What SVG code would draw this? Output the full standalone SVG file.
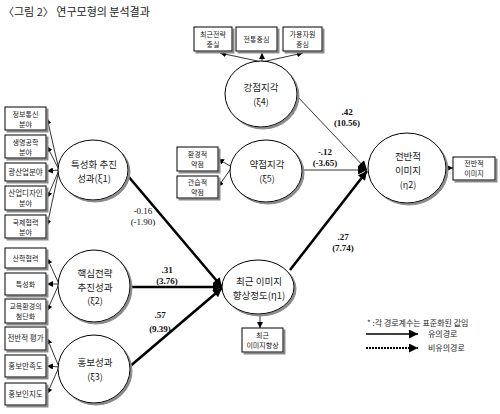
<svg xmlns="http://www.w3.org/2000/svg" width="500" height="414" viewBox="0 0 500 414">
<style>
.t{font-family:"Noto Sans CJK KR","Noto Sans",sans-serif;fill:#222;}
.n{font-family:"Liberation Serif",serif;fill:#111;font-size:9px;}
.b{font-weight:bold;}
.box{fill:#fff;stroke:#000;stroke-width:1;}
.el{fill:#fff;stroke:#000;stroke-width:1;}
.thin{stroke:#000;stroke-width:0.8;fill:none;}
.thick{stroke:#000;stroke-width:2.6;fill:none;}
</style>
<defs>
<filter id="sh" x="-20%" y="-20%" width="150%" height="150%">
<feOffset in="SourceAlpha" dx="2" dy="2" result="o"/>
<feFlood flood-color="#8a8a8a"/>
<feComposite in2="o" operator="in" result="s"/>
<feMerge><feMergeNode in="s"/><feMergeNode in="SourceGraphic"/></feMerge>
</filter>
<marker id="a" viewBox="0 0 10 10" refX="10" refY="5" markerWidth="6" markerHeight="6" markerUnits="userSpaceOnUse" orient="auto"><path d="M0,0L10,5L0,10z" fill="#000"/></marker>
<marker id="A" viewBox="0 0 10 10" refX="10" refY="5" markerWidth="10" markerHeight="9" markerUnits="userSpaceOnUse" orient="auto"><path d="M0,0L10,5L0,10z" fill="#000"/></marker>
</defs>
<rect width="500" height="414" fill="#fff"/>
<text class="t" x="3" y="16" font-size="11">〈그림 2〉 연구모형의 분석결과</text>

<g id="connectors">
<path class="thin" d="M262,62L220,53" marker-end="url(#a)"/>
<path class="thin" d="M262,62L262,53" marker-end="url(#a)"/>
<path class="thin" d="M262,62L303,53" marker-end="url(#a)"/>
<path class="thin" d="M59,170L47,118" marker-end="url(#a)"/>
<path class="thin" d="M59,170L47,146" marker-end="url(#a)"/>
<path class="thin" d="M59,170L47,171" marker-end="url(#a)"/>
<path class="thin" d="M59,170L47,198" marker-end="url(#a)"/>
<path class="thin" d="M59,170L47,226" marker-end="url(#a)"/>
<path class="thin" d="M59,284L47,258" marker-end="url(#a)"/>
<path class="thin" d="M59,284L47,284" marker-end="url(#a)"/>
<path class="thin" d="M59,284L47,311" marker-end="url(#a)"/>
<path class="thin" d="M59,367L47,338" marker-end="url(#a)"/>
<path class="thin" d="M59,367L47,366" marker-end="url(#a)"/>
<path class="thin" d="M59,367L47,394" marker-end="url(#a)"/>
<path class="thin" d="M232,167L218,159" marker-end="url(#a)"/>
<path class="thin" d="M232,167L218,187" marker-end="url(#a)"/>
<path class="thin" d="M445,168L453,168" marker-end="url(#a)"/>
<path class="thin" d="M260,313L260,328" marker-end="url(#a)"/>
<path class="thick" d="M128,176L222,287" marker-end="url(#A)"/>
<path class="thick" d="M130,287L222,287" marker-end="url(#A)"/>
<path class="thick" d="M128,368L222,288" marker-end="url(#A)"/>
<path class="thick" d="M290,270L367,171" marker-end="url(#A)"/>
<path class="thin" d="M296,95L367,170" marker-end="url(#A)"/>
<path class="thin" d="M302,170L367,170" marker-end="url(#A)"/>
</g>

<g id="labels">
<text class="n" x="143" y="214" text-anchor="middle">-0.16</text>
<text class="n" x="143" y="225" text-anchor="middle">(-1.90)</text>
<text class="n b" x="167" y="273" text-anchor="middle">.31</text>
<text class="n b" x="167" y="284" text-anchor="middle">(3.76)</text>
<text class="n b" x="160" y="318" text-anchor="middle">.57</text>
<text class="n b" x="160" y="332" text-anchor="middle">(9.39)</text>
<text class="n b" x="343" y="240" text-anchor="middle">.27</text>
<text class="n b" x="343" y="251" text-anchor="middle">(7.74)</text>
<text class="n b" x="347" y="115" text-anchor="middle">.42</text>
<text class="n b" x="347" y="126" text-anchor="middle">(10.56)</text>
<text class="n b" x="325" y="155" text-anchor="middle">-.12</text>
<text class="n b" x="325" y="166" text-anchor="middle">(-3.65)</text>
</g>

<g id="xi4">
<ellipse class="el" filter="url(#sh)" cx="261" cy="94" rx="36" ry="33"/>
<text class="t" x="261" y="91" font-size="9.5" text-anchor="middle">강점지각</text>
<text class="t" x="261" y="105" font-size="9" text-anchor="middle">(ξ4)</text>
</g>
<g id="ind-top1"><rect class="box" filter="url(#sh)" x="194" y="27" width="38" height="24"/>
<text class="t" x="213" y="37" font-size="7" text-anchor="middle">최근전략</text><text class="t" x="213" y="47" font-size="7" text-anchor="middle">충실</text></g>
<g id="ind-top2"><rect class="box" filter="url(#sh)" x="236" y="27" width="41" height="24"/>
<text class="t" x="256.5" y="42" font-size="7" text-anchor="middle">전통중심</text></g>
<g id="ind-top3"><rect class="box" filter="url(#sh)" x="283" y="27" width="39" height="24"/>
<text class="t" x="302.5" y="37" font-size="7" text-anchor="middle">가용자원</text><text class="t" x="302.5" y="47" font-size="7" text-anchor="middle">중심</text></g>

<g id="xi1">
<ellipse class="el" filter="url(#sh)" cx="93" cy="170" rx="35" ry="30"/>
<text class="t" x="94" y="168" font-size="9.5" text-anchor="middle">특성화 추진</text>
<text class="t" x="94" y="182" font-size="9.5" text-anchor="middle">성과(ξ1)</text>
</g>
<g id="ind-l1"><rect class="box" filter="url(#sh)" x="5" y="107" width="41" height="23"/>
<text class="t" x="25.5" y="117" font-size="7" text-anchor="middle">정보통신</text><text class="t" x="25.5" y="127" font-size="7" text-anchor="middle">분야</text></g>
<g id="ind-l2"><rect class="box" filter="url(#sh)" x="5" y="135" width="41" height="23"/>
<text class="t" x="25.5" y="145" font-size="7" text-anchor="middle">생명공학</text><text class="t" x="25.5" y="155" font-size="7" text-anchor="middle">분야</text></g>
<g id="ind-l3"><rect class="box" filter="url(#sh)" x="5" y="163" width="41" height="18"/>
<text class="t" x="25.5" y="175" font-size="7.5" text-anchor="middle">광산업분야</text></g>
<g id="ind-l4"><rect class="box" filter="url(#sh)" x="5" y="186" width="41" height="24"/>
<text class="t" x="25.5" y="196" font-size="7.5" text-anchor="middle">산업디자인</text><text class="t" x="25.5" y="206" font-size="7" text-anchor="middle">분야</text></g>
<g id="ind-l5"><rect class="box" filter="url(#sh)" x="5" y="215" width="41" height="23"/>
<text class="t" x="25.5" y="225" font-size="7" text-anchor="middle">국제협력</text><text class="t" x="25.5" y="235" font-size="7" text-anchor="middle">분야</text></g>

<g id="xi2">
<ellipse class="el" filter="url(#sh)" cx="94" cy="286" rx="36" ry="36"/>
<text class="t" x="95" y="277" font-size="9.5" text-anchor="middle">핵심전략</text>
<text class="t" x="95" y="291" font-size="9.5" text-anchor="middle">추진성과</text>
<text class="t" x="95" y="304" font-size="9" text-anchor="middle">(ξ2)</text>
</g>
<g id="ind-l6"><rect class="box" filter="url(#sh)" x="5" y="248" width="41" height="20"/>
<text class="t" x="25.5" y="261" font-size="7" text-anchor="middle">산학협력</text></g>
<g id="ind-l7"><rect class="box" filter="url(#sh)" x="5" y="273" width="41" height="22"/>
<text class="t" x="25.5" y="287" font-size="7" text-anchor="middle">특성화</text></g>
<g id="ind-l8"><rect class="box" filter="url(#sh)" x="5" y="299" width="41" height="24"/>
<text class="t" x="25.5" y="309" font-size="7" text-anchor="middle">교육환경의</text><text class="t" x="25.5" y="319" font-size="7" text-anchor="middle">첨단화</text></g>

<g id="xi3">
<ellipse class="el" filter="url(#sh)" cx="94" cy="369" rx="36" ry="34"/>
<text class="t" x="95" y="366" font-size="9.5" text-anchor="middle">홍보성과</text>
<text class="t" x="95" y="380" font-size="9" text-anchor="middle">(ξ3)</text>
</g>
<g id="ind-l9"><rect class="box" filter="url(#sh)" x="5" y="327" width="41" height="23"/>
<text class="t" x="25.5" y="341" font-size="7.5" text-anchor="middle">전반적 평가</text></g>
<g id="ind-l10"><rect class="box" filter="url(#sh)" x="5" y="355" width="41" height="22"/>
<text class="t" x="25.5" y="369" font-size="7.5" text-anchor="middle">홍보만족도</text></g>
<g id="ind-l11"><rect class="box" filter="url(#sh)" x="5" y="383" width="41" height="22"/>
<text class="t" x="25.5" y="397" font-size="7.5" text-anchor="middle">홍보인지도</text></g>

<g id="xi5">
<ellipse class="el" filter="url(#sh)" cx="266" cy="171" rx="36" ry="31"/>
<text class="t" x="267" y="168" font-size="9.5" text-anchor="middle">약점지각</text>
<text class="t" x="267" y="182" font-size="9" text-anchor="middle">(ξ5)</text>
</g>
<g id="ind-w1"><rect class="box" filter="url(#sh)" x="177" y="147" width="41" height="24"/>
<text class="t" x="197.5" y="157" font-size="7" text-anchor="middle">환경적</text><text class="t" x="197.5" y="167" font-size="7" text-anchor="middle">약점</text></g>
<g id="ind-w2"><rect class="box" filter="url(#sh)" x="177" y="176" width="41" height="22"/>
<text class="t" x="197.5" y="185" font-size="7" text-anchor="middle">관습적</text><text class="t" x="197.5" y="195" font-size="7" text-anchor="middle">약점</text></g>

<g id="eta2">
<ellipse class="el" filter="url(#sh)" cx="407" cy="168" rx="39" ry="35"/>
<text class="t" x="408" y="160" font-size="9.5" text-anchor="middle">전반적</text>
<text class="t" x="408" y="174" font-size="9.5" text-anchor="middle">이미지</text>
<text class="t" x="408" y="188" font-size="9" text-anchor="middle">(η2)</text>
</g>
<g id="ind-e2"><rect class="box" filter="url(#sh)" x="453" y="157" width="42" height="23"/>
<text class="t" x="474" y="166" font-size="7" text-anchor="middle">전반적</text><text class="t" x="474" y="176" font-size="7" text-anchor="middle">이미지</text></g>

<g id="eta1">
<ellipse class="el" filter="url(#sh)" cx="258" cy="287" rx="36" ry="27"/>
<text class="t" x="259" y="285" font-size="9.5" text-anchor="middle">최근 이미지</text>
<text class="t" x="259" y="299" font-size="9.5" text-anchor="middle">향상정도(η1)</text>
</g>
<g id="ind-e1"><rect class="box" filter="url(#sh)" x="242" y="328" width="41" height="24"/>
<text class="t" x="262.5" y="338" font-size="7" text-anchor="middle">최근</text><text class="t" x="262.5" y="348" font-size="7" text-anchor="middle">이미지향상</text></g>

<g id="legend">
<text class="t" x="367" y="326" font-size="8">* :각 경로계수는 표준화된 값임</text>
<path d="M366,334L418,334" stroke="#000" stroke-width="1.6" marker-end="url(#A)"/>
<text class="t" x="428" y="337" font-size="8">유의경로</text>
<path d="M366,348L418,348" stroke="#000" stroke-width="2.2" stroke-dasharray="2,1" marker-end="url(#A)"/>
<text class="t" x="428" y="351" font-size="8">비유의경로</text>
</g>
</svg>
